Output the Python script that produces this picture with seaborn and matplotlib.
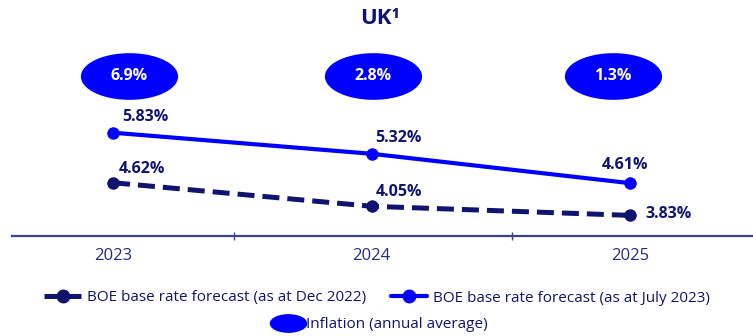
import numpy as np
import pandas as pd
import matplotlib
matplotlib.use("Agg")
import matplotlib.pyplot as plt
from matplotlib.path import Path
from matplotlib.lines import Line2D
import matplotlib.transforms as mtransforms
import seaborn as sns

years = ["2023", "2024", "2025"]
rate_dec22 = [4.62, 4.05, 3.83]
rate_jul23 = [5.83, 5.32, 4.61]
inflation = [6.9, 2.8, 1.3]

NAVY = "#0f1470"
BLUE = "#0000ff"
AXIS = "#3a3f9a"

sns.set_theme(style="white")
plt.rcParams["font.family"] = ["Open Sans", "DejaVu Sans"]

fig = plt.figure(figsize=(7.53, 3.36), dpi=100)
ax = fig.add_axes([12 / 753, 100 / 336, 741 / 753, 236 / 336])

x = np.arange(len(years))
df = pd.DataFrame({"x": x, "dec": rate_dec22, "jul": rate_jul23, "inf": inflation})

sns.lineplot(data=df, x="x", y="dec", ax=ax, color=NAVY, lw=3.6,
             marker="o", markersize=9, markeredgewidth=0)
ax.lines[-1].set_dashes([3.4, 1.6])
sns.lineplot(data=df, x="x", y="jul", ax=ax, color=BLUE, lw=3.0,
             marker="o", markersize=9, markeredgewidth=0)

# ellipse marker for the inflation bubbles (bubble row sits slightly off the category centres)
t = np.linspace(0, 2 * np.pi, 80)
ell = Path(np.column_stack([np.cos(t), 0.48 * np.sin(t)]))
trans = mtransforms.blended_transform_factory(ax.transData, ax.transAxes)
bubble_shift = np.array([0.062, 0.006, -0.066])
bx = x + bubble_shift
ax.scatter(bx, [0.68] * len(x), transform=trans, marker=ell, s=70 ** 2,
           color=BLUE, linewidths=0, zorder=3, clip_on=False)
for xi, v in zip(bx, inflation):
    ax.text(xi, 0.68, f"{v}%", transform=trans, ha="center", va="center",
            color="white", fontsize=11.5, fontweight="bold", zorder=4)

# value labels
lab_kw = dict(color=NAVY, fontsize=11.5, fontweight="bold")
offs_jul = [(9, 8), (4, 8), (-28, 10)]
offs_dec = [(6, 6), (4, 6), (15, -7)]
for xi, v, (dx, dy) in zip(x, rate_jul23, offs_jul):
    ax.annotate(f"{v:.2f}%", (xi, v), xytext=(dx, dy), textcoords="offset pixels",
                ha="left", va="bottom", **lab_kw)
for xi, v, (dx, dy) in zip(x, rate_dec22, offs_dec):
    ax.annotate(f"{v:.2f}%", (xi, v), xytext=(dx, dy), textcoords="offset pixels",
                ha="left", va="bottom", **lab_kw)

ax.set_xlim(-0.391, 2.476)
ax.set_ylim(3.331, 9.04)
ax.set_xlabel("")
ax.set_ylabel("")
ax.set_yticks([])
ax.set_xticks(x)
ax.set_xticklabels(years)
ax.tick_params(axis="x", length=0, pad=9, labelsize=12, labelcolor="#262b80")
ax.set_xticks([0.468, 1.543], minor=True)
ax.tick_params(axis="x", which="minor", length=6, width=1, color=AXIS,
               direction="inout", bottom=True)
for s in ["top", "right", "left"]:
    ax.spines[s].set_visible(False)
ax.spines["bottom"].set_color(AXIS)
ax.spines["bottom"].set_linewidth(1.6)

fig.text(380 / 753, 1 - 18 / 336, "UK\u00b9", ha="center", va="center",
         color=NAVY, fontsize=16, fontweight="bold")

# legend
h1 = Line2D([], [], color=NAVY, lw=3.6, marker="o", markersize=9, dashes=[3.4, 1.6])
h2 = Line2D([], [], color=BLUE, lw=3.0, marker="o", markersize=9)
h3 = Line2D([], [], color=BLUE, lw=0, marker=ell, markersize=26)
fig.legend([h1, h2], ["BOE base rate forecast (as at Dec 2022)",
                      "BOE base rate forecast (as at July 2023)"],
           loc="center", bbox_to_anchor=(0.501, 1 - 298 / 336), ncol=2,
           frameon=False, fontsize=11, handlelength=2.4, handletextpad=0.4,
           columnspacing=1.6, labelcolor=NAVY)
fig.legend([h3], ["Inflation (annual average)"], loc="center",
           bbox_to_anchor=(0.505, 1 - 325 / 336), frameon=False, fontsize=11,
           handlelength=2.0, handletextpad=0.2, labelcolor=NAVY)

fig.savefig("out.png", dpi=100)
